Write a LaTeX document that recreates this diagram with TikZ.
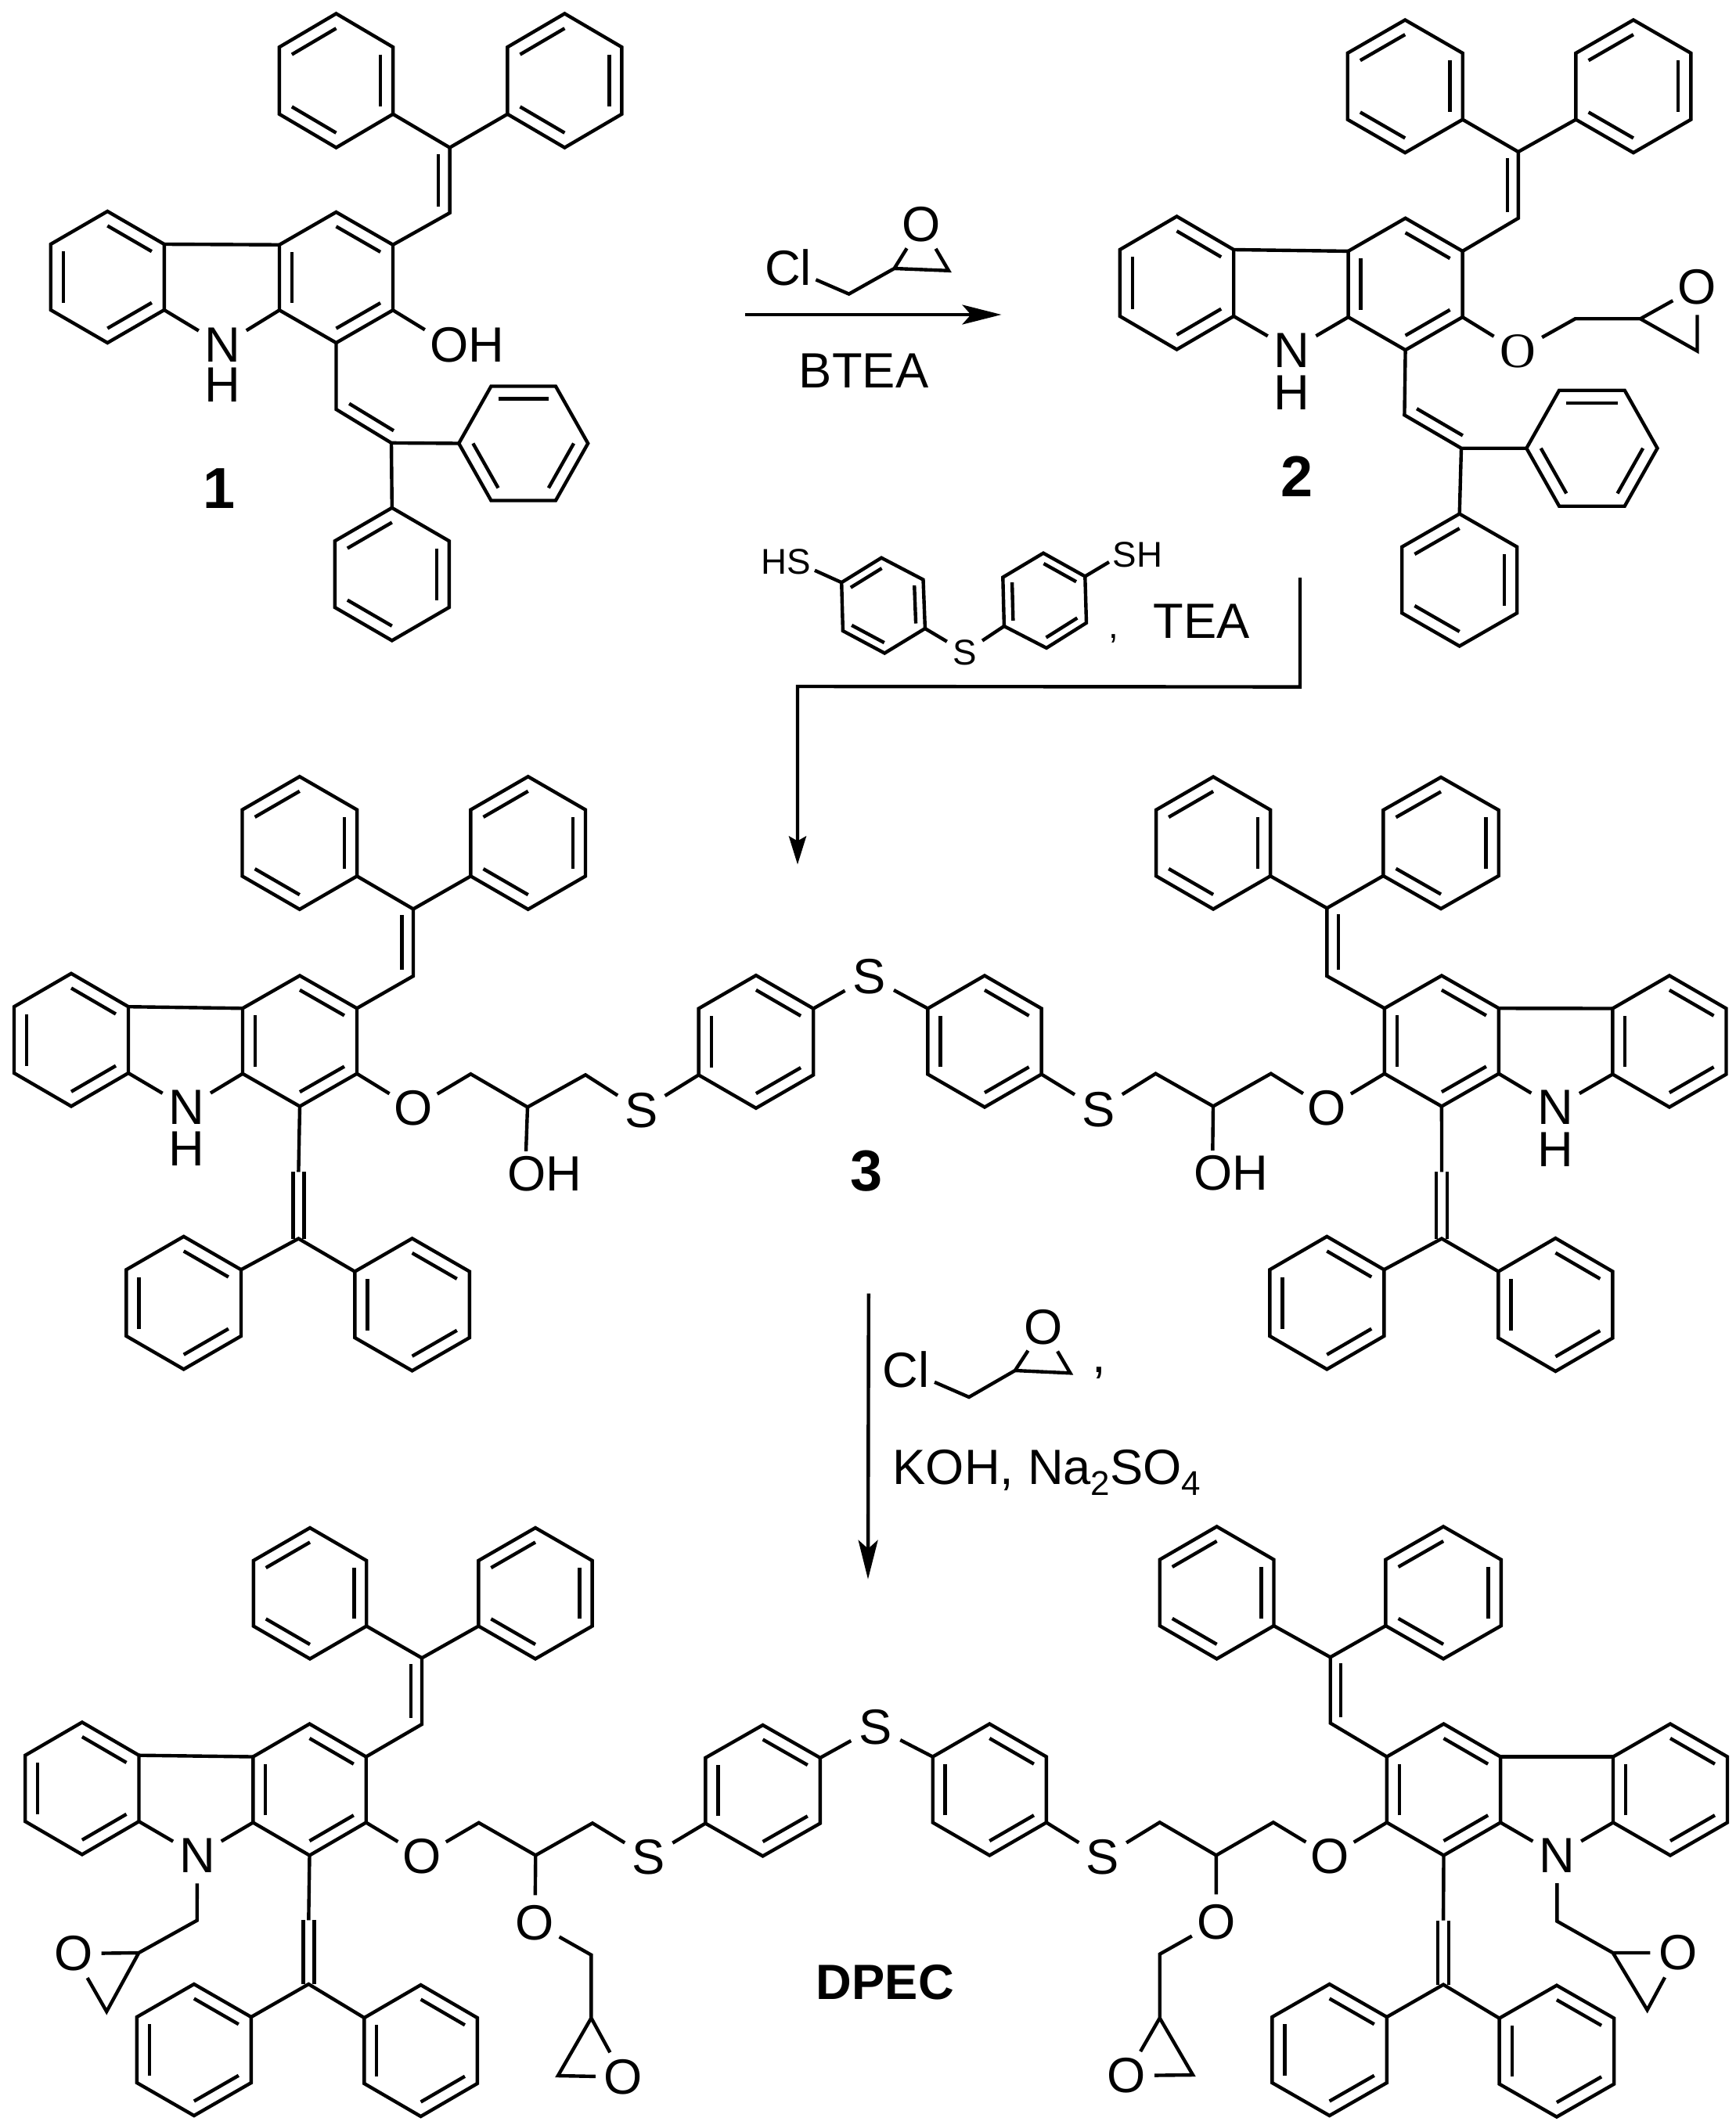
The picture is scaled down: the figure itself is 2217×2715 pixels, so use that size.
\documentclass[tikz,border=0pt]{standalone}
\usepackage{fontspec}
\setmainfont{Liberation Sans}
\newfontfamily\atomserif{Liberation Serif}
\usetikzlibrary{calc,arrows.meta}

\newcommand{\atomfont}{\fontsize{18}{20}\selectfont}
\newcommand{\smallfont}{\fontsize{13}{15}\selectfont}
\newcommand{\subchem}[1]{\raisebox{-4pt}{\fontsize{12.5}{12.5}\selectfont #1}}

% six corners are in #1-1 .. #1-6, clockwise; #2 lists the edges with an inner line
\newcommand{\hexdraw}[2]{%
	\coordinate (#1-c) at ($(#1-1)!0.5!(#1-4)$);
	\draw[bond] (#1-1) -- (#1-2) -- (#1-3) -- (#1-4) -- (#1-5) -- (#1-6) -- cycle;
	\foreach \e in {#2} {
		\pgfmathtruncatemacro{\f}{mod(\e,6)+1}
		\draw[bond] ($(#1-\e)!0.22!(#1-c)$) -- ($(#1-\f)!0.22!(#1-c)$);
	}
}
% point on top: name, cx, cy, half width, half height, edges
\newcommand{\hexring}[6]{%
	\coordinate (#1-1) at (#2,#3-#5);
	\coordinate (#1-2) at (#2+#4,#3-#5/2);
	\coordinate (#1-3) at (#2+#4,#3+#5/2);
	\coordinate (#1-4) at (#2,#3+#5);
	\coordinate (#1-5) at (#2-#4,#3+#5/2);
	\coordinate (#1-6) at (#2-#4,#3-#5/2);
	\hexdraw{#1}{#6}
}
% flat on top
\newcommand{\hexflat}[6]{%
	\coordinate (#1-1) at (#2-#4/2,#3-#5);
	\coordinate (#1-2) at (#2+#4/2,#3-#5);
	\coordinate (#1-3) at (#2+#4,#3);
	\coordinate (#1-4) at (#2+#4/2,#3+#5);
	\coordinate (#1-5) at (#2-#4/2,#3+#5);
	\coordinate (#1-6) at (#2-#4,#3);
	\hexdraw{#1}{#6}
}
% inner line of a chain double bond, shifted by (#3,#4)
\newcommand{\dblin}[4]{%
	\draw[bond,shorten <=0.08cm,shorten >=0.08cm] ($(#1)+(#3,#4)$) -- ($(#2)+(#3,#4)$);
}
% double bond drawn as two equal lines
\newcommand{\dblsym}[2]{%
	\draw[bond] ($(#1)+(-7,0)$) -- ($(#2)+(-7,0)$);
	\draw[bond] ($(#1)+(7,0)$) -- ($(#2)+(7,0)$);
}

\tikzset{
	bond/.style={line width=1.25pt},
	atom/.style={circle,inner sep=0pt,minimum size=0.7cm,font=\atomfont},
	smallatom/.style={circle,inner sep=0pt,minimum size=0.52cm,font=\smallfont},
	grouplabel/.style={inner sep=0.06cm,font=\atomfont},
	smalllabel/.style={inner sep=0.04cm,font=\smallfont},
	reagent/.style={inner sep=0pt,font=\atomfont},
	cpdlabel/.style={inner sep=0pt,font=\fontsize{21}{24}\selectfont\bfseries},
	rxn/.style={line width=1.25pt,-{Stealth[length=0.5cm,width=0.25cm,inset=0.11cm]}},
	rxnthin/.style={line width=1.25pt,-{Stealth[length=0.36cm,width=0.22cm,inset=0.06cm]}}
}

\begin{document}
\begin{tikzpicture}[x=0.01cm,y=-0.01cm]
\useasboundingbox (0,0) rectangle (2217,2715);

% compound 1
\hexring{pa1}{429.5}{103}{72.6}{85.6}{2,4,6}
\hexring{pb1}{721.4}{103}{73}{85.6}{2,4,6}
\hexring{ce1}{429.5}{354.5}{72.5}{83.5}{1,3,5}
\hexring{le1}{137.3}{354}{72.5}{84}{1,3,5}
\hexflat{pc1}{668.7}{566.5}{82.5}{73}{1,3,5}
\hexring{pd1}{500.8}{733.6}{73}{84.8}{2,4,6}
\coordinate (v1a) at (574.6,188.6);
\coordinate (v1b) at (574.6,272);
\coordinate (v1c) at (429.5,523);
\coordinate (v1d) at (500,565.9);
\node[atom] (n1) at (284.4,441) {N};
\node[atom] (h1) at (284.4,492) {H};
\node[grouplabel] (oh1) at (597,441) {OH};
\draw[bond] (pa1-3) -- (v1a) -- (pb1-5);
\draw[bond] (v1a) -- (v1b) -- (ce1-2);
\dblin{v1a}{v1b}{-14.5}{0}
\draw[bond] (le1-2) -- (ce1-6);
\draw[bond] (le1-3) -- (n1) -- (ce1-5);
\draw[bond] (ce1-3) -- (oh1.160);
\draw[bond] (ce1-4) -- (v1c) -- (v1d) -- (pc1-6);
\dblin{v1c}{v1d}{9.8}{-11.5}
\draw[bond] (v1d) -- (pd1-1);
\node[cpdlabel] (lab1) at (280,624) {1};

% first step
\node[atom] (cl1) at (1007,342) {Cl};
\node[atom] (ox1) at (1177.5,287) {O};
\coordinate (r1a) at (1084.6,375.6);
\coordinate (r1b) at (1142.6,343);
\coordinate (r1c) at (1212,345.8);
\draw[bond] (cl1) -- (r1a) -- (r1b) -- (r1c) -- (ox1) -- (r1b);
\coordinate (s1a) at (952,402);
\coordinate (s1b) at (1279.5,402);
\draw[rxn] (s1a) -- (s1b);
\node[reagent] (btea) at (1103.6,474) {BTEA};

% compound 2
\hexring{pa2}{1795.2}{110.3}{73.5}{84.8}{2,4,6}
\hexring{pb2}{2086.9}{110.3}{73.5}{84.8}{2,4,6}
\hexring{ce2}{1795.6}{363}{73}{84.2}{1,3,5}
\hexring{le2}{1503.5}{361.5}{72.7}{85}{1,3,5}
\hexflat{pc2}{2033.9}{572.7}{83.6}{74}{1,3,5}
\hexring{pd2}{1864.7}{741}{73.5}{84.5}{2,4,6}
\coordinate (v2a) at (1939.8,194);
\coordinate (v2b) at (1939.8,278.8);
\coordinate (v2c) at (1794.4,530.3);
\coordinate (v2d) at (1867,572.7);
\node[atom] (n2) at (1650.6,447.3) {N};
\node[atom] (h2) at (1650.6,501.8) {H};
\node[atom,font=\atomfont\atomserif] (o2) at (1939,448.5) {O};
\node[atom] (ox2) at (2168.5,366.7) {O};
\coordinate (e2a) at (2012.5,407.3);
\coordinate (e2b) at (2095.8,407.3);
\coordinate (e2c) at (2168.5,448.5);
\draw[bond] (pa2-3) -- (v2a) -- (pb2-5);
\draw[bond] (v2a) -- (v2b) -- (ce2-2);
\dblin{v2a}{v2b}{-14}{0}
\draw[bond] (le2-2) -- (ce2-6);
\draw[bond] (le2-3) -- (n2) -- (ce2-5);
\draw[bond] (ce2-3) -- (o2) -- (e2a) -- (e2b) -- (ox2) -- (e2c) -- (e2b);
\draw[bond] (ce2-4) -- (v2c) -- (v2d) -- (pc2-6);
\dblin{v2c}{v2d}{8.8}{-12.2}
\draw[bond] (v2d) -- (pd2-1);
\node[cpdlabel] (lab2) at (1657,609) {2};

% second step
\coordinate (tl-1) at (1126.1,712.7);
\coordinate (tl-2) at (1179.5,740.6);
\coordinate (tl-3) at (1181.9,803);
\coordinate (tl-4) at (1130.2,834.5);
\coordinate (tl-5) at (1076.9,806);
\coordinate (tl-6) at (1075.2,744.2);
\hexdraw{tl}{2,4,6}
\coordinate (tr-1) at (1333,706.7);
\coordinate (tr-2) at (1386.3,736.4);
\coordinate (tr-3) at (1388,795.8);
\coordinate (tr-4) at (1337,827.9);
\coordinate (tr-5) at (1282.9,800);
\coordinate (tr-6) at (1281.3,737.6);
\hexdraw{tr}{1,3,5}
\node[smallatom] (st) at (1232.8,833.3) {S};
\node[smalllabel] (hs) at (1004.5,717.6) {HS};
\node[smalllabel] (sh) at (1453.4,709) {SH};
\draw[bond] (tl-3) -- (st) -- (tr-5);
\draw[bond] (tl-6) -- (hs.-17);
\draw[bond] (tr-2) -- (sh.194);
\node[reagent,anchor=base west] (tea) at (1416,815) {{\smallfont ,}\hspace{0.44cm}TEA};
\coordinate (s2a) at (1661,738);
\coordinate (s2b) at (1661,877.6);
\coordinate (s2c) at (1019,877);
\coordinate (s2d) at (1019,1104.5);
\draw[rxnthin] (s2a) -- (s2b) -- (s2c) -- (s2d);

% compound 3
\hexring{pa3}{382.8}{1077}{73.3}{84.8}{2,4,6}
\hexring{pb3}{674.7}{1077}{73.3}{84.8}{2,4,6}
\hexring{ce3}{383}{1330}{73}{83.5}{1,3,5}
\hexring{le3}{91}{1328.6}{73}{84.8}{1,3,5}
\hexring{pc3}{234.7}{1664.6}{73.3}{84.8}{1,3,5}
\hexring{pd3}{526.6}{1666.8}{73.3}{84.5}{1,3,5}
\hexring{th3}{965.9}{1331}{73.3}{84.8}{1,3,5}
\hexring{tg3}{1258}{1330.5}{72.6}{84}{1,3,5}
\hexring{ci3}{1841.9}{1330}{73}{83.5}{1,3,5}
\hexring{ri3}{2132.9}{1330.5}{72.6}{84}{1,3,5}
\hexring{qa3}{1550.1}{1077}{73}{84.5}{2,4,6}
\hexring{qb3}{1841}{1077}{73.7}{84}{2,4,6}
\hexring{qc3}{1695.3}{1664.6}{73}{84.8}{1,3,5}
\hexring{qd3}{1987.4}{1667}{73}{85}{1,3,5}
\coordinate (v3a) at (528,1161.4);
\coordinate (v3b) at (528,1247);
\coordinate (v3c) at (381.4,1497.4);
\coordinate (v3d) at (381.4,1582.5);
\coordinate (w3a) at (1695.3,1160.3);
\coordinate (w3b) at (1695.3,1247);
\coordinate (w3c) at (1842,1497.4);
\coordinate (w3d) at (1842,1582.5);
\node[atom] (n3) at (238.4,1415) {N};
\node[atom] (h3) at (238.4,1467.6) {H};
\node[atom] (m3) at (1987,1415) {N};
\node[atom] (k3) at (1987,1469) {H};
\node[atom] (o3) at (528,1416) {O};
\node[atom] (p3) at (1695.3,1416) {O};
\node[atom] (sa3) at (819.2,1418.8) {S};
\node[atom] (sb3) at (1110.6,1248) {S};
\node[atom] (sc3) at (1403.5,1417.2) {S};
\node[grouplabel] (oh3) at (695.6,1500) {OH};
\node[grouplabel] (oi3) at (1572.9,1499) {OH};
\coordinate (e3a) at (601.4,1372.2);
\coordinate (e3b) at (674,1414.5);
\coordinate (e3c) at (748,1373.3);
\coordinate (f3a) at (1476.5,1371.7);
\coordinate (f3b) at (1550,1413.4);
\coordinate (f3c) at (1623.8,1371.7);
\draw[bond] (pa3-3) -- (v3a) -- (pb3-5);
\draw[bond] (v3a) -- (v3b) -- (ce3-2);
\dblin{v3a}{v3b}{-14.5}{0}
\draw[bond] (le3-2) -- (ce3-6);
\draw[bond] (le3-3) -- (n3) -- (ce3-5);
\draw[bond] (ce3-4) -- (v3c);
\dblsym{v3c}{v3d}
\draw[bond] (pc3-2) -- (v3d) -- (pd3-6);
\draw[bond] (ce3-3) -- (o3) -- (e3a) -- (e3b) -- (e3c) -- (sa3) -- (th3-5);
\draw[bond] (e3b) -- (oh3.129);
\draw[bond] (th3-2) -- (sb3) -- (tg3-6);
\draw[bond] (tg3-3) -- (sc3) -- (f3a) -- (f3b) -- (f3c) -- (p3) -- (ci3-5);
\draw[bond] (f3b) -- (oi3.129);
\draw[bond] (qa3-3) -- (w3a) -- (qb3-5);
\draw[bond] (w3a) -- (w3b) -- (ci3-6);
\dblin{w3a}{w3b}{14.5}{0}
\draw[bond] (ci3-2) -- (ri3-6);
\draw[bond] (ci3-3) -- (m3) -- (ri3-5);
\draw[bond] (ci3-4) -- (w3c);
\dblsym{w3c}{w3d}
\draw[bond] (qc3-2) -- (w3d) -- (qd3-6);
\node[cpdlabel] (lab3) at (1107.5,1496) {3};

% third step
\coordinate (s3a) at (1109.8,1652.7);
\coordinate (s3b) at (1109,2017.7);
\draw[rxn] (s3a) -- (s3b);
\node[atom,minimum size=0.78cm] (cl3) at (1157.6,1750) {Cl};
\node[atom] (ox3) at (1333,1695.7) {O};
\coordinate (r3a) at (1238,1785);
\coordinate (r3b) at (1296.9,1751);
\coordinate (r3c) at (1367.4,1754.3);
\draw[bond] (cl3) -- (r3a) -- (r3b) -- (r3c) -- (ox3) -- (r3b);
\node[reagent,anchor=base] (cm3) at (1404.5,1753) {,};
\node[reagent,anchor=base west] (koh) at (1140,1896) {KOH, Na\subchem{2}SO\subchem{4}};

% DPEC
\hexring{pa4}{396}{2035.7}{72.2}{83.7}{2,4,6}
\hexring{pb4}{684}{2035.7}{72.6}{83.7}{2,4,6}
\hexring{ce4}{395.5}{2286.5}{72.2}{84}{1,3,5}
\hexring{le4}{104.9}{2284.9}{72.6}{84.5}{1,3,5}
\hexring{pc4}{247.9}{2619}{73}{84}{1,3,5}
\hexring{pd4}{537.6}{2620}{72.2}{84}{1,3,5}
\hexring{th4}{974.6}{2287.7}{73.3}{83.7}{1,3,5}
\hexring{tg4}{1264.3}{2286.5}{72.6}{84}{1,3,5}
\hexring{ci4}{1844.5}{2286.5}{72.6}{84}{1,3,5}
\hexring{ri4}{2134}{2286.5}{73}{84}{1,3,5}
\hexring{qa4}{1554.6}{2034.9}{72.9}{84.5}{2,4,6}
\hexring{qb4}{1844.1}{2034.9}{73.7}{84.5}{2,4,6}
\hexring{qc4}{1698.6}{2619}{73.3}{84}{1,3,5}
\hexring{qd4}{1988.9}{2620.6}{73.3}{84}{1,3,5}
\coordinate (v4a) at (539,2118.3);
\coordinate (v4b) at (539,2203);
\coordinate (v4c) at (394.3,2453.4);
\coordinate (v4d) at (394.3,2535);
\coordinate (w4a) at (1699.7,2117.3);
\coordinate (w4b) at (1699.7,2201.5);
\coordinate (w4c) at (1844.1,2453.5);
\coordinate (w4d) at (1844.1,2535.6);
\node[atom] (n4) at (252,2370.6) {N};
\node[atom] (m4) at (1989.3,2370.4) {N};
\node[atom] (o4) at (539,2371.4) {O};
\node[atom] (p4) at (1699,2372) {O};
\node[atom] (oa4) at (683.5,2457) {O};
\node[atom] (ob4) at (1553.9,2456) {O};
\node[atom] (oc4) at (796.5,2653.6) {O};
\node[atom] (od4) at (1439.3,2652) {O};
\node[atom] (oe4) at (93.9,2496) {O};
\node[atom] (of4) at (2144,2495) {O};
\node[atom] (sa4) at (828.7,2373) {S};
\node[atom] (sb4) at (1118.5,2206.7) {S};
\node[atom] (sc4) at (1408.7,2373) {S};
\coordinate (e4a) at (611.7,2328.8);
\coordinate (e4b) at (684.3,2370.4);
\coordinate (e4c) at (757,2329.3);
\coordinate (e4d) at (755.4,2497.7);
\coordinate (e4e) at (755.4,2578.3);
\coordinate (e4f) at (712.9,2652);
\coordinate (f4a) at (1481.7,2328.3);
\coordinate (f4b) at (1553.9,2370.4);
\coordinate (f4c) at (1626.8,2328.3);
\coordinate (f4d) at (1481.7,2496.7);
\coordinate (f4e) at (1481.7,2578.3);
\coordinate (f4f) at (1524,2651);
\coordinate (g4a) at (251.7,2453.6);
\coordinate (g4b) at (177.3,2495);
\coordinate (g4c) at (136.2,2570);
\coordinate (h4a) at (1989.3,2454.6);
\coordinate (h4b) at (2060.7,2495);
\coordinate (h4c) at (2104.6,2568);
\draw[bond] (pa4-3) -- (v4a) -- (pb4-5);
\draw[bond] (v4a) -- (v4b) -- (ce4-2);
\dblin{v4a}{v4b}{-14}{0}
\draw[bond] (le4-2) -- (ce4-6);
\draw[bond] (le4-3) -- (n4) -- (ce4-5);
\draw[bond] (n4) -- (g4a) -- (g4b) -- (oe4) -- (g4c) -- (g4b);
\draw[bond] (ce4-4) -- (v4c);
\dblsym{v4c}{v4d}
\draw[bond] (pc4-2) -- (v4d) -- (pd4-6);
\draw[bond] (ce4-3) -- (o4) -- (e4a) -- (e4b) -- (e4c) -- (sa4) -- (th4-5);
\draw[bond] (e4b) -- (oa4) -- (e4d) -- (e4e) -- (oc4) -- (e4f) -- (e4e);
\draw[bond] (th4-2) -- (sb4) -- (tg4-6);
\draw[bond] (tg4-3) -- (sc4) -- (f4a) -- (f4b) -- (f4c) -- (p4) -- (ci4-5);
\draw[bond] (f4b) -- (ob4) -- (f4d) -- (f4e) -- (od4) -- (f4f) -- (f4e);
\draw[bond] (qa4-3) -- (w4a) -- (qb4-5);
\draw[bond] (w4a) -- (w4b) -- (ci4-6);
\dblin{w4a}{w4b}{13.5}{0}
\draw[bond] (ci4-2) -- (ri4-6);
\draw[bond] (ci4-3) -- (m4) -- (ri4-5);
\draw[bond] (m4) -- (h4a) -- (h4b) -- (of4) -- (h4c) -- (h4b);
\draw[bond] (ci4-4) -- (w4c);
\dblsym{w4c}{w4d}
\draw[bond] (qc4-2) -- (w4d) -- (qd4-6);
\node[cpdlabel,font=\atomfont\bfseries] (dpec) at (1130.8,2533) {DPEC};
\end{tikzpicture}
\end{document}
